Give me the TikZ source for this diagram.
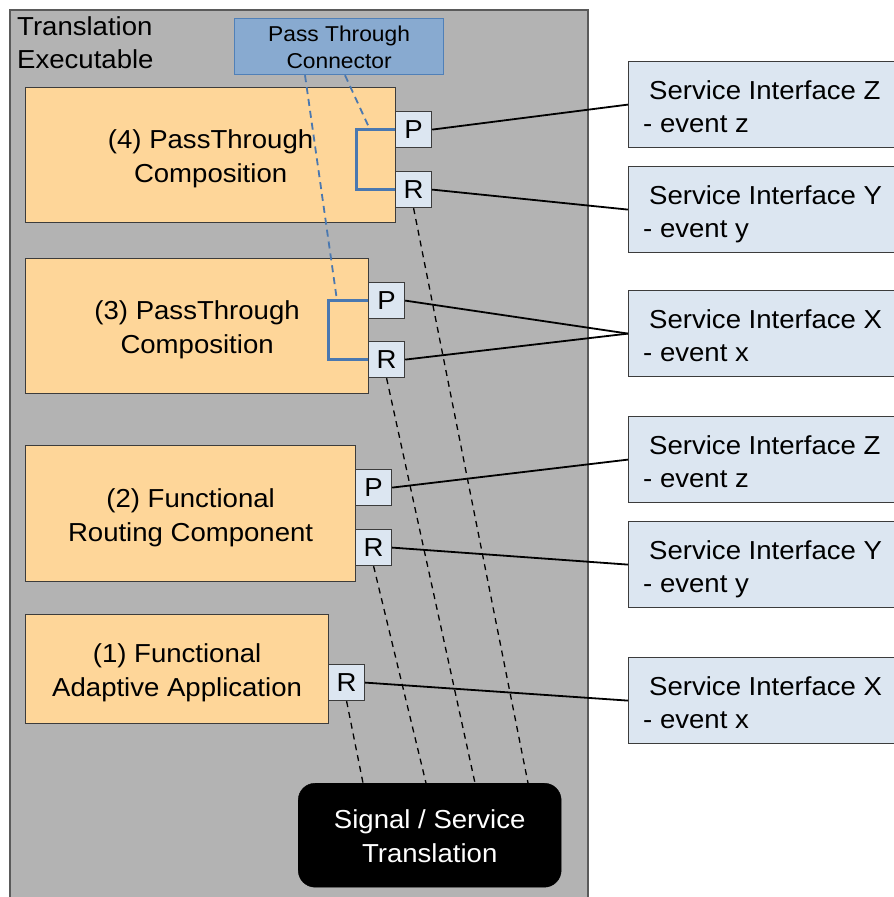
\documentclass[tikz,border=0pt]{standalone}
\usepackage{fontspec}
\setmainfont{Liberation Sans}[FakeStretch=1.06]
\usetikzlibrary{calc}
\definecolor{outergray}{RGB}{179,179,179}
\definecolor{outerborder}{RGB}{90,90,90}
\definecolor{boxborder}{RGB}{60,60,60}
\definecolor{orangefill}{RGB}{254,214,153}
\definecolor{portfill}{RGB}{220,230,241}
\definecolor{ptcfill}{RGB}{136,170,208}
\definecolor{ptcborder}{RGB}{80,128,184}
\definecolor{bracketblue}{RGB}{74,120,176}
\newcommand\mainfs{\fontsize{26}{33}\selectfont}
\newcommand\smallfs{\fontsize{21.5}{26}\selectfont}
\begin{document}
\begin{tikzpicture}[x=1pt,y=-1pt,
  every node/.style={inner sep=0pt, font=\mainfs},
  compbox/.style={draw=boxborder, line width=1.2pt, fill=orangefill, anchor=north west},
  port/.style={draw=boxborder, line width=1.2pt, fill=portfill, minimum width=36pt, minimum height=36pt, anchor=north west},
  svc/.style={draw=boxborder, line width=1.2pt, fill=portfill, minimum width=290pt, minimum height=86pt, anchor=north west},
  txt/.style={anchor=base},
  ltxt/.style={anchor=base west},
  conn/.style={line width=1.8pt, draw=black},
  sigdash/.style={draw=black, line width=1.3pt, dash pattern=on 6pt off 5pt},
  ptdash/.style={draw=bracketblue, line width=1.8pt, dash pattern=on 7pt off 5pt},
  bracket/.style={draw=bracketblue, line width=3pt}]
\useasboundingbox (0,0) rectangle (894,897);
\clip (0,0) rectangle (894,897);

% outer executable
\node[draw=outerborder, line width=1.5pt, fill=outergray, anchor=north west,
      minimum width=578pt, minimum height=900pt] (outer) at (9,9) {};
\node[ltxt] (title1) at (17,35) {Translation};
\node[ltxt] (title2) at (17,68) {Executable};

% pass through connector label
\node[draw=ptcborder, line width=1.2pt, fill=ptcfill, anchor=north west,
      minimum width=209pt, minimum height=56pt] (ptc) at (234,18) {};
\node[txt, font=\smallfs] (ptc1) at ($(ptc.north)+(0,23)$) {Pass Through};
\node[txt, font=\smallfs] (ptc2) at ($(ptc.north)+(0,50)$) {Connector};

% composition boxes
\node[compbox, minimum width=370pt, minimum height=135pt] (b4) at (25,87) {};
\node[txt] (b4a) at ($(b4.north)+(0,61)$) {(4) PassThrough};
\node[txt] (b4b) at ($(b4.north)+(0,95)$) {Composition};

\node[compbox, minimum width=343pt, minimum height=135pt] (b3) at (25,258) {};
\node[txt] (b3a) at ($(b3.north)+(0,61)$) {(3) PassThrough};
\node[txt] (b3b) at ($(b3.north)+(0,95)$) {Composition};

\node[compbox, minimum width=330pt, minimum height=136pt] (b2) at (25,445) {};
\node[txt] (b2a) at ($(b2.north)+(0,62)$) {(2) Functional};
\node[txt] (b2b) at ($(b2.north)+(0,96)$) {Routing Component};

\node[compbox, minimum width=303pt, minimum height=109pt] (b1) at (25,614) {};
\node[txt] (b1a) at ($(b1.north)+(0,48)$) {(1) Functional};
\node[txt] (b1b) at ($(b1.north)+(0,82)$) {Adaptive Application};

% ports
\node[port] (p4) at (395,111) {P};
\node[port] (r4) at (395,171) {R};
\node[port] (p3) at (368,282) {P};
\node[port] (r3) at (368,341) {R};
\node[port] (p2) at (355,469) {P};
\node[port] (r2) at (355,529) {R};
\node[port] (r1) at (328,664) {R};

% pass-through brackets
\draw[bracket] (p4.west) -- ++(-39,0) |- (r4.west);
\draw[bracket] (p3.west) -- ++(-40,0) |- (r3.west);

% blue dashed references from connector label
\draw[ptdash] ($(ptc.south west)+(111,0)$) -- ($(p4.west)+(-25,0)$);
\draw[ptdash] ($(ptc.south west)+(71,0)$) -- ($(p3.west)+(-31,0)$);

% signal / service translation
\node[fill=black, draw=black, rounded corners=17pt, anchor=north west,
      minimum width=263pt, minimum height=104pt] (sig) at (298,783) {};
\node[txt, text=white] (sig1) at ($(sig.north)+(0,45)$) {Signal / Service};
\node[txt, text=white] (sig2) at ($(sig.north)+(0,79)$) {Translation};

\draw[sigdash] (r1.south) -- ($(sig.north west)+(65,0)$);
\draw[sigdash] (r2.south) -- ($(sig.north west)+(128,0)$);
\draw[sigdash] (r3.south) -- ($(sig.north west)+(177,0)$);
\draw[sigdash] (r4.south) -- ($(sig.north west)+(230,0)$);

% service interfaces
\node[svc] (z1) at (628,61) {};
\node[ltxt] (z1a) at ($(z1.north west)+(21,38)$) {Service Interface Z};
\node[ltxt] (z1b) at ($(z1.north west)+(15,71)$) {- event z};

\node[svc] (y1) at (628,166) {};
\node[ltxt] (y1a) at ($(y1.north west)+(21,38)$) {Service Interface Y};
\node[ltxt] (y1b) at ($(y1.north west)+(15,71)$) {- event y};

\node[svc] (x1) at (628,290) {};
\node[ltxt] (x1a) at ($(x1.north west)+(21,38)$) {Service Interface X};
\node[ltxt] (x1b) at ($(x1.north west)+(15,71)$) {- event x};

\node[svc] (z2) at (628,416) {};
\node[ltxt] (z2a) at ($(z2.north west)+(21,38)$) {Service Interface Z};
\node[ltxt] (z2b) at ($(z2.north west)+(15,71)$) {- event z};

\node[svc] (y2) at (628,521) {};
\node[ltxt] (y2a) at ($(y2.north west)+(21,38)$) {Service Interface Y};
\node[ltxt] (y2b) at ($(y2.north west)+(15,71)$) {- event y};

\node[svc] (x2) at (628,657) {};
\node[ltxt] (x2a) at ($(x2.north west)+(21,38)$) {Service Interface X};
\node[ltxt] (x2b) at ($(x2.north west)+(15,71)$) {- event x};

% connectors
\draw[conn] (p4.east) -- (z1.west);
\draw[conn] (r4.east) -- (y1.west);
\draw[conn] (p3.east) -- (x1.west);
\draw[conn] (r3.east) -- (x1.west);
\draw[conn] (p2.east) -- (z2.west);
\draw[conn] (r2.east) -- (y2.west);
\draw[conn] (r1.east) -- (x2.west);
\end{tikzpicture}
\end{document}
